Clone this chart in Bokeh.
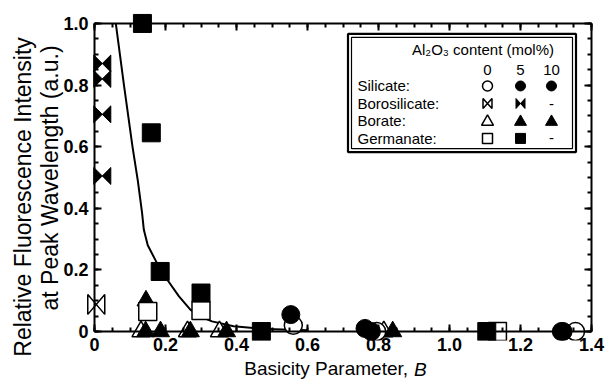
import math
from bokeh.plotting import figure
from bokeh.models import Range1d, LinearAxis, FixedTicker, Label
from bokeh.embed import file_html
from bokeh.resources import INLINE

# ---------------- data ----------------
# Germanate, 5 mol% Al2O3 (filled squares)
GER5_B = [0.135, 0.16, 0.185, 0.30, 0.47, 1.105]
GER5_I = [1.0, 0.645, 0.195, 0.125, 0.0, 0.0]
# Germanate, 0 mol% (open squares)
GER0_B = [0.15, 0.30, 1.135]
GER0_I = [0.065, 0.068, 0.0]
# Silicate, 0 mol% (open circles)
SIL0_B = [0.56, 0.795, 1.355]
SIL0_I = [0.02, 0.0, 0.0]
# Silicate, 5 mol% (filled circles)
SIL5_B = [0.553, 0.762, 1.32]
SIL5_I = [0.055, 0.01, 0.0]
# Silicate, 10 mol% (filled circles)
SIL10_B = [0.78, 1.315]
SIL10_I = [0.0, 0.0]
# Borate, 0 mol% (open triangles)
BOR0_B = [0.131, 0.262, 0.352, 0.815]
BOR0_I = [0.0, 0.0, 0.0, 0.0]
# Borate, 5 mol% (filled triangles)
BOR5_B = [0.145, 0.144, 0.27, 0.84]
BOR5_I = [0.10, 0.0, 0.0, 0.0]
# Borate, 10 mol% (filled triangles)
BOR10_B = [0.186, 0.372]
BOR10_I = [0.0, 0.0]
# Borosilicate, 0 mol% (open bowtie)
BSI0_B = [0.005]
BSI0_I = [0.088]
# Borosilicate, 5 mol% (filled bowties)
BSI5_B = [0.022, 0.022, 0.022, 0.022]
BSI5_I = [0.87, 0.82, 0.705, 0.505]
# fitted curve
FIT_B = [0.060, 0.083, 0.107, 0.122, 0.134, 0.139, 0.150, 0.176, 0.205, 0.238,
         0.270, 0.300, 0.331, 0.392, 0.468, 0.550, 0.600]
FIT_I = [1.000, 0.800, 0.600, 0.490, 0.385, 0.330, 0.280, 0.222, 0.168, 0.114,
         0.071, 0.048, 0.033, 0.017, 0.009, 0.006, 0.004]

X_TICKS = [0, 0.2, 0.4, 0.6, 0.8, 1.0, 1.2, 1.4]
X_TICK_LABELS = ["0", "0.2", "0.4", "0.6", "0.8", "1.0", "1.2", "1.4"]
Y_TICKS = [0, 0.2, 0.4, 0.6, 0.8, 1.0]
Y_TICK_LABELS = ["0", "0.2", "0.4", "0.6", "0.8", "1.0"]

X_TITLE = "Basicity Parameter,"
X_TITLE_VAR = "B"
Y_TITLE_1 = "Relative Fluorescence Intensity"
Y_TITLE_2 = "at Peak Wavelength (a.u.)"

# ---------------- layout geometry ----------------
W, H = 605, 382
AX_L, AX_R, AX_T, AX_B = 94, 591, 23, 332      # pixel positions of the axis box
FR_L, FR_R, FR_T, FR_B = 86, 597, 11, 341      # frame, a little larger so markers are not cut
XMAX, YMAX = 1.4, 1.0
sx = (AX_R - AX_L) / XMAX
sy = (AX_B - AX_T) / YMAX

x_range = Range1d(-(AX_L - FR_L) / sx, XMAX + (FR_R - AX_R) / sx)
y_range = Range1d(-(FR_B - AX_B) / sy, YMAX + (AX_T - FR_T) / sy)

p = figure(width=W, height=H, x_range=x_range, y_range=y_range,
           output_backend="svg", toolbar_location=None,
           x_axis_type=None, y_axis_type=None, title=None,
           min_border_left=FR_L, min_border_right=W - FR_R,
           min_border_top=FR_T, min_border_bottom=H - FR_B)
p.outline_line_color = None
p.background_fill_color = "white"
p.border_fill_color = "white"

# pixel-like helper ranges for the legend
p.extra_x_ranges = {"px": Range1d(FR_L, FR_R)}
p.extra_y_ranges = {"px": Range1d(FR_B, FR_T)}
PXR = dict(x_range_name="px", y_range_name="px")

FONT = "Liberation Sans"
X_MINOR = [round(i * 0.05, 2) for i in range(29)]
Y_MINOR = [round(i * 0.05, 2) for i in range(21)]

HIDE_LINES = dict(axis_line_color=None, major_tick_line_color=None,
                  minor_tick_line_color=None, major_tick_in=0, major_tick_out=0,
                  minor_tick_in=0, minor_tick_out=0)


def text_axis(ticks, labels, standoff, size, style, orientation="horizontal"):
    """An axis that only draws texts (tick labels) next to the frame."""
    return LinearAxis(ticker=FixedTicker(ticks=ticks, minor_ticks=[]),
                      major_label_overrides=dict(zip(ticks, labels)),
                      major_label_text_font=FONT, major_label_text_font_size=size,
                      major_label_text_font_style=style, major_label_text_color="black",
                      major_label_standoff=standoff,
                      major_label_orientation=orientation, **HIDE_LINES)


def rule_axis(ticks, minor, loc, bounds):
    """Axis line with inward ticks, at the exact position of the data box."""
    return LinearAxis(ticker=FixedTicker(ticks=ticks, minor_ticks=minor),
                      fixed_location=loc, bounds=bounds,
                      major_tick_in=7, major_tick_out=0,
                      minor_tick_in=4, minor_tick_out=0,
                      axis_line_width=2, axis_line_color="black",
                      major_tick_line_width=2, major_tick_line_color="black",
                      minor_tick_line_width=2, minor_tick_line_color="black",
                      major_label_text_color=None, major_label_text_font_size="0px",
                      major_label_standoff=0)


# bottom side: tick labels, then the title "Basicity Parameter, B" (B in italics)
p.add_layout(text_axis(X_TICKS, X_TICK_LABELS, -(FR_B - 338), "18px", "bold"), "below")
c1 = (325.7 - AX_L) / sx
c2 = (419.8 - AX_L) / sx
p.add_layout(text_axis([c1], [X_TITLE], 4, "19px", "normal"), "below")
p.add_layout(text_axis([c2], [X_TITLE_VAR], -23, "19px", "italic"), "below")

# left side: tick labels, then the two title lines
p.add_layout(text_axis(Y_TICKS, Y_TICK_LABELS, -(88 - FR_L), "18px", "bold"), "left")
v2 = (AX_B - 178) / sy
v1 = (AX_B - 197) / sy
p.add_layout(text_axis([v2], [Y_TITLE_2], -3, "23px", "normal", "parallel"), "left")
p.add_layout(text_axis([v1], [Y_TITLE_1], -2, "23px", "normal", "parallel"), "left")

# axis lines and inward ticks on all four sides
p.add_layout(rule_axis(X_TICKS, X_MINOR, 0, (0, XMAX)), "below")
p.add_layout(rule_axis(X_TICKS, X_MINOR, YMAX, (0, XMAX)), "above")
p.add_layout(rule_axis(Y_TICKS, Y_MINOR, 0, (0, YMAX)), "left")
p.add_layout(rule_axis(Y_TICKS, Y_MINOR, XMAX, (0, YMAX)), "right")

# ---------------- data marks ----------------
p.line(FIT_B, FIT_I, line_width=2, line_color="black")

MS = 18
OPEN = dict(fill_color="white", line_color="black", line_width=1.5)
FILL = dict(fill_color="black", line_color="black", line_width=1)

p.scatter(BOR0_B, BOR0_I, marker="triangle", size=MS, **OPEN)
p.scatter(BOR5_B, BOR5_I, marker="triangle", size=MS, **FILL)
p.scatter(BOR10_B, BOR10_I, marker="triangle", size=MS, **FILL)
p.scatter(GER0_B, GER0_I, marker="square", size=MS, **OPEN)
p.scatter(GER5_B, GER5_I, marker="square", size=MS, **FILL)
p.scatter(SIL0_B, SIL0_I, marker="circle", size=MS, **OPEN)
p.scatter(SIL5_B, SIL5_I, marker="circle", size=MS, **FILL)
p.scatter(SIL10_B, SIL10_I, marker="circle", size=MS, **FILL)

BT_HALF = 8.5  # half width / height of a bowtie, pixels


def bowties(bs, vs, hw, hh):
    xs, ys = [], []
    for b, v in zip(bs, vs):
        xs.append([b - hw, b + hw, b + hw, b - hw])
        ys.append([v + hh, v - hh, v + hh, v - hh])
    return xs, ys


xs, ys = bowties(BSI0_B, BSI0_I, BT_HALF / sx, 10 / sy)
p.patches(xs, ys, **OPEN)
xs, ys = bowties(BSI5_B, BSI5_I, BT_HALF / sx, BT_HALF / sy)
p.patches(xs, ys, **FILL)

# ---------------- legend box ----------------
p.quad(left=[347.5], right=[575.5], top=[33.5], bottom=[152], fill_color="white",
       line_color="black", line_width=2.2, **PXR)
p.quad(left=[351], right=[572], top=[37], bottom=[148.5], fill_color=None,
       line_color="black", line_width=1.2, **PXR)

LEG_FS = "15px"


def leg_text(x, y, t, align="left"):
    p.add_layout(Label(x=x, y=y, text=t, text_align=align, text_baseline="middle",
                       text_font=FONT, text_font_size=LEG_FS, text_color="black", **PXR))


leg_text(482.5, 49.5, "Al\u2082O\u2083 content (mol%)", "center")
COLS = [487, 520, 551]
for cx, t in zip(COLS, ["0", "5", "10"]):
    leg_text(cx, 69.5, t, "center")
ROWS = [85.7, 103.3, 120.7, 138.3]
for ry, t in zip(ROWS, ["Silicate:", "Borosilicate:", "Borate:", "Germanate:"]):
    leg_text(357, ry, t)

LS = 10
p.scatter([COLS[0]], [ROWS[0]], marker="circle", size=LS, **OPEN, **PXR)
p.scatter(COLS[1:], [ROWS[0]] * 2, marker="circle", size=LS, **FILL, **PXR)
xs, ys = bowties([COLS[0]], [ROWS[1]], 4.5, -5)
p.patches(xs, ys, **OPEN, **PXR)
xs, ys = bowties([COLS[1]], [ROWS[1]], 4.5, -5)
p.patches(xs, ys, **FILL, **PXR)
leg_text(COLS[2], ROWS[1], "-", "center")
p.scatter([COLS[0]], [ROWS[2] + 1], marker="triangle", size=12, **OPEN, **PXR)
p.scatter(COLS[1:], [ROWS[2] + 1] * 2, marker="triangle", size=12, **FILL, **PXR)
p.scatter([COLS[0]], [ROWS[3]], marker="square", size=LS, **OPEN, **PXR)
p.scatter([COLS[1]], [ROWS[3]], marker="square", size=LS, **FILL, **PXR)
leg_text(COLS[2], ROWS[3], "-", "center")

open("out.html", "w").write(file_html(p, INLINE))
